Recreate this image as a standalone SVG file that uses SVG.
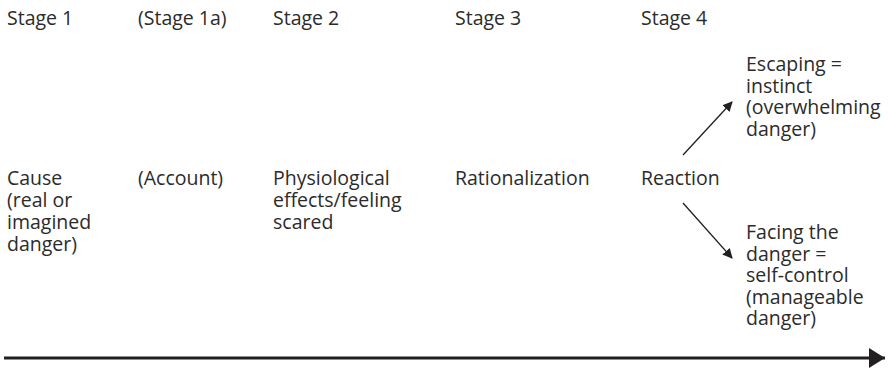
<svg xmlns="http://www.w3.org/2000/svg" width="888" height="370" viewBox="0 0 888 370">
<defs>
<style>
text{font-family:"Open Sans","Noto Sans",sans-serif;font-size:19.5px;fill:#2b2b2b}
.c{stroke:#231f20;fill:none}
</style>
<marker id="ah" viewBox="0 0 10 10" refX="9" refY="5" markerWidth="10" markerHeight="10" markerUnits="userSpaceOnUse" orient="auto"><path d="M0,0 L10,5 L0,10 Z" fill="#231f20"/></marker>
<marker id="big" viewBox="0 0 16 20" refX="16" refY="10" markerWidth="16" markerHeight="20" markerUnits="userSpaceOnUse" orient="auto"><path d="M0,0 L16,10 L0,20 Z" fill="#231f20"/></marker>
</defs>
<rect width="888" height="370" fill="#fff"/>
<g id="headers">
<text x="7" y="25">Stage 1</text>
<text x="138" y="25">(Stage 1a)</text>
<text x="273" y="25">Stage 2</text>
<text x="455" y="25">Stage 3</text>
<text x="641" y="25">Stage 4</text>
</g>
<g id="cause"><text x="7" y="185">Cause<tspan x="7" dy="22">(real or</tspan><tspan x="7" dy="22">imagined</tspan><tspan x="7" dy="22">danger)</tspan></text></g>
<g id="account"><text x="138" y="185">(Account)</text></g>
<g id="physio"><text x="273" y="185">Physiological<tspan x="273" dy="22">effects/feeling</tspan><tspan x="273" dy="22">scared</tspan></text></g>
<g id="rational"><text x="455" y="185">Rationalization</text></g>
<g id="reaction"><text x="641" y="185">Reaction</text></g>
<g id="escaping"><text x="746" y="71">Escaping =<tspan x="746" dy="21.6">instinct</tspan><tspan x="746" dy="21.6">(overwhelming</tspan><tspan x="746" dy="21.6">danger)</tspan></text></g>
<g id="facing"><text x="746" y="239">Facing the<tspan x="746" dy="21.6">danger =</tspan><tspan x="746" dy="21.6">self-control</tspan><tspan x="746" dy="21.6">(manageable</tspan><tspan x="746" dy="21.6">danger)</tspan></text></g>
<g id="connectors">
<line class="c" x1="683" y1="155" x2="732" y2="102" stroke-width="1.3" marker-end="url(#ah)"/>
<line class="c" x1="683" y1="203" x2="732" y2="258" stroke-width="1.3" marker-end="url(#ah)"/>
<line class="c" x1="4" y1="358" x2="885" y2="358" stroke-width="3" marker-end="url(#big)"/>
</g>
</svg>
